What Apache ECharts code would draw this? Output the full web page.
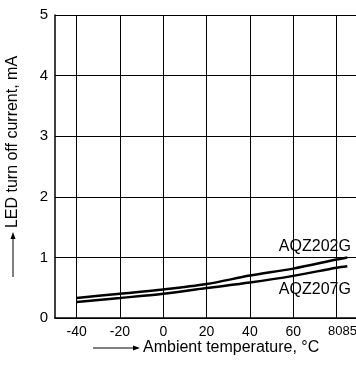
<!DOCTYPE html>
<html>
<head>
<meta charset="utf-8">
<script src="https://cdn.jsdelivr.net/npm/echarts@6/dist/echarts.min.js"></script>
<style>
  html, body { margin: 0; padding: 0; background: #fff; }
  #chart { width: 356px; height: 367px; }
</style>
</head>
<body>
<div id="chart"></div>
<script>
// temperatures (°C) where the curves were read
const temps = [-40, -20, 0, 20, 40, 60, 80, 85]
// LED turn off current, mA
const aqz202g = [0.33, 0.40, 0.47, 0.56, 0.70, 0.815, 0.965, 1.0]
const aqz207g = [0.265, 0.33, 0.40, 0.495, 0.585, 0.695, 0.83, 0.855]
// tick labels on the x axis (80 and 85 sit so close they print as one "8085")
const xTicks = [-40, -20, 0, 20, 40, 60, 80]
const xLastTick = 85

const font = 'Liberation Sans, Arial, Helvetica, sans-serif'
let chart = echarts.init(document.getElementById('chart'))

const pairs = arr => temps.map((t, i) => [t, arr[i]])

chart.setOption({
  animation: false,
  grid: { left: 55, top: 15, right: 0, bottom: 49, outerBoundsMode: 'none', containLabel: false },
  xAxis: {
    type: 'value',
    min: -50,
    max: 89,
    axisLine: { show: true, onZero: false, lineStyle: { color: '#000', width: 1.5 } },
    axisTick: { show: false, customValues: xTicks },
    splitLine: { show: true, lineStyle: { color: '#000', width: 1 } },
    axisLabel: {
      customValues: xTicks,
      hideOverlap: false,
      color: '#000',
      fontFamily: font,
      fontSize: 14,
      margin: 7,
      formatter: v => v === 80 ? '{l|80' + xLastTick + '}' : String(v),
      rich: {
        l: { fontFamily: font, fontSize: 13, color: '#000', padding: [0, 0, 0, 12] }
      }
    }
  },
  yAxis: {
    type: 'value',
    min: 0,
    max: 5,
    interval: 1,
    axisLine: { show: true, onZero: false, lineStyle: { color: '#000', width: 1.5 } },
    axisTick: { show: false },
    splitLine: { show: true, lineStyle: { color: '#000', width: 1 } },
    axisLabel: { color: '#000', fontFamily: font, fontSize: 15, margin: 7 }
  },
  series: [
    {
      name: 'AQZ202G',
      type: 'line',
      data: pairs(aqz202g),
      smooth: 0.3,
      symbol: 'none',
      lineStyle: { color: '#000', width: 2.5 },
      markPoint: {
        symbol: 'circle',
        symbolSize: 0,
        data: [{ coord: [70, 1.185] }],
        label: { show: true, position: 'inside', formatter: 'AQZ202G', color: '#000', fontFamily: font, fontSize: 16 }
      }
    },
    {
      name: 'AQZ207G',
      type: 'line',
      data: pairs(aqz207g),
      smooth: 0.3,
      symbol: 'none',
      lineStyle: { color: '#000', width: 2.5 },
      markPoint: {
        symbol: 'circle',
        symbolSize: 0,
        data: [{ coord: [70, 0.466] }],
        label: { show: true, position: 'inside', formatter: 'AQZ207G', color: '#000', fontFamily: font, fontSize: 16 }
      }
    }
  ],
  //軸名稱和箭頭
  graphic: [
    {
      type: 'text',
      x: 13, y: 142,
      rotation: Math.PI / 2,
      style: { text: 'LED turn off current, mA', fill: '#000', font: '16px ' + font, align: 'center', verticalAlign: 'middle' }
    },
    {
      type: 'line',
      shape: { x1: 13, y1: 277, x2: 13, y2: 236 },
      style: { stroke: '#000', lineWidth: 1 }
    },
    {
      type: 'polygon',
      shape: { points: [[13, 232], [10.5, 239], [15.5, 239]] },
      style: { fill: '#000' }
    },
    {
      type: 'line',
      shape: { x1: 93, y1: 348, x2: 136, y2: 348 },
      style: { stroke: '#000', lineWidth: 1 }
    },
    {
      type: 'polygon',
      shape: { points: [[140, 348], [133, 345.5], [133, 350.5]] },
      style: { fill: '#000' }
    },
    {
      type: 'text',
      x: 143, y: 348,
      style: { text: 'Ambient temperature, °C', fill: '#000', font: '16px ' + font, align: 'left', verticalAlign: 'middle' }
    }
  ]
})
</script>
</body>
</html>
